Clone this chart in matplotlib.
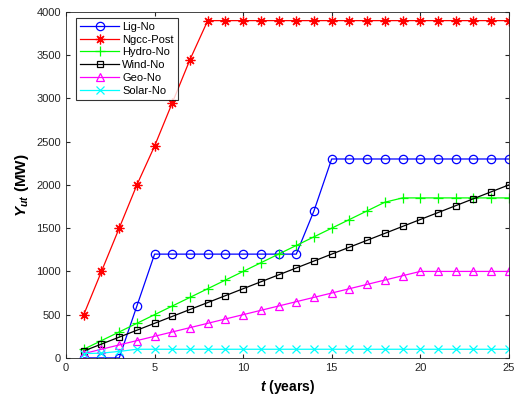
import numpy as np
from matplotlib import pyplot as plt

plt.rcParams['font.family'] = ['Liberation Sans', 'DejaVu Sans']
plt.rcParams['mathtext.fontset'] = 'custom'
plt.rcParams['mathtext.rm'] = 'Liberation Sans'
plt.rcParams['mathtext.it'] = 'Liberation Sans:italic'
plt.rcParams['mathtext.bf'] = 'Liberation Sans:bold'
plt.rcParams['mathtext.bfit'] = 'Liberation Sans:bold:italic'

t = np.arange(1, 26)

lig_no = [0, 0, 0, 600, 1200, 1200, 1200, 1200, 1200, 1200, 1200, 1200, 1200,
          1700, 2300, 2300, 2300, 2300, 2300, 2300, 2300, 2300, 2300, 2300, 2300]
ngcc_post = [500, 1000, 1500, 2000, 2450, 2950, 3450] + [3900] * 18
hydro_no = [100, 200, 300, 400, 500, 600, 700, 800, 900, 1000, 1100, 1200, 1300,
            1400, 1500, 1600, 1700, 1800] + [1850] * 7
wind_no = [80 * k for k in range(1, 26)]
geo_no = [50 * k for k in range(1, 21)] + [1000] * 5
solar_no = [50, 55, 75] + [100] * 22

# (data, label, colour, marker, size)
series = [
    (lig_no, 'Lig-No', 'b', 'o', 6),
    (ngcc_post, 'Ngcc-Post', 'r', (8, 2, 0), 7),
    (hydro_no, 'Hydro-No', 'lime', '+', 7),
    (wind_no, 'Wind-No', 'k', 's', 5),
    (geo_no, 'Geo-No', 'magenta', '^', 6),
    (solar_no, 'Solar-No', 'cyan', 'x', 6),
]

fig = plt.figure(figsize=(5.16, 3.99), dpi=100)
ax = fig.add_axes([0.128, 0.103, 0.858, 0.867])

for y, lab, c, m, ms in series:
    ax.plot(t, y, color=c, marker=m, markersize=ms, markerfacecolor='none',
            markeredgecolor=c, linewidth=0.9, markeredgewidth=0.9, label=lab)

ax.set_xlim(0, 25)
ax.set_ylim(0, 4000)
ax.set_xticks([0, 5, 10, 15, 20, 25])
ax.set_yticks(range(0, 4001, 500))
ax.tick_params(direction='in', labelsize=8, colors='#262626', length=3,
               top=True, right=True)
for s in ax.spines.values():
    s.set_color('#262626')
    s.set_linewidth(0.6)

ax.set_xlabel(r'$\mathbfit{t}$ (years)', fontsize=10, fontweight='bold', labelpad=4)
ax.set_ylabel(r'$\mathbfit{Y}_{\mathbfit{ut}}$ (MW)', fontsize=11, fontweight='bold', labelpad=4)

leg = ax.legend(loc='upper left', bbox_to_anchor=(0.023, 0.983), borderaxespad=0,
                fontsize=8, frameon=True, fancybox=False, edgecolor='k',
                handlelength=3.5, labelspacing=0.25, borderpad=0.35,
                handletextpad=0.3)
leg.get_frame().set_linewidth(0.8)

fig.savefig('out.png', dpi=100)
